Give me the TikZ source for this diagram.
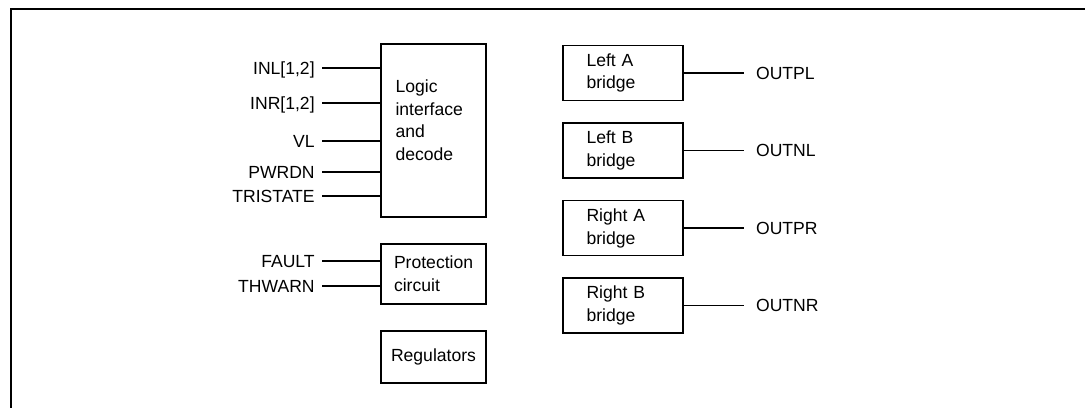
\documentclass[tikz,border=0pt]{standalone}
\usepackage{fontspec}
\setmainfont{Liberation Sans}
\usetikzlibrary{positioning}

\begin{document}
\begin{tikzpicture}[x=0.02cm, y=-0.02cm,
    font=\fontsize{10}{13}\selectfont,
    block/.style = {draw, line width=0.9pt, inner sep=0pt},
    leftblock/.style = {block, minimum width=2.1cm},
    bridge/.style = {block, minimum width=2.4cm, minimum height=1.1cm, text width=1.46cm, inner xsep=0.47cm, align=left},
    sig/.style = {inner sep=0pt, text height=7pt, text depth=0pt},
    wire/.style = {line width=0.9pt}]
    \useasboundingbox (0,0) rectangle (1085,408);
    \draw[line width=1.2pt] (11,408) -- (11,9) -- (1085,9);

    % left column
    \node[leftblock, minimum height=3.46cm] (logic) at (433.5,130.5) {};
    \node[anchor=north west, inner sep=0pt, align=left] (logictext) at ([xshift=0.3cm, yshift=-0.72cm]logic.north west) {Logic\\interface\\and\\decode};
    \node[leftblock, minimum height=1.2cm, text width=1.58cm, inner xsep=0.26cm, align=left] (prot) at (433.5,274) {Protection\\circuit};
    \node[leftblock, minimum height=1.04cm, align=center] (reg) at (433.5,357) {Regulators};

    \foreach \name/\y/\txt in {inl/68/{INL[1,2]}, inr/103/{INR[1,2]}, vl/141/VL, pwrdn/172/PWRDN, tristate/196/TRISTATE}{
        \node[sig, anchor=east] (\name) at (315,\y) {\txt};
        \draw[wire, shorten <=4pt] (\name.east) -- (\name.east -| logic.west);
    }
    \foreach \name/\y/\txt in {fault/261/FAULT, thwarn/286/THWARN}{
        \node[sig, anchor=east] (\name) at (315,\y) {\txt};
        \draw[wire, shorten <=4pt] (\name.east) -- (\name.east -| prot.west);
    }

    % bridges
    \node[bridge] (la) at (623,73) {Left A\\bridge};
    \node[bridge, below=0.42cm of la] (lb) {Left B\\bridge};
    \node[bridge, below=0.42cm of lb] (ra) {Right A\\bridge};
    \node[bridge, below=0.42cm of ra] (rb) {Right B\\bridge};

    \foreach \src/\name/\txt in {la/outpl/OUTPL, lb/outnl/OUTNL, ra/outpr/OUTPR, rb/outnr/OUTNR}{
        \node[sig, right=1.44cm of \src] (\name) {\txt};
        \draw[wire, shorten >=6.8pt] (\src) -- (\name);
    }
\end{tikzpicture}
\end{document}
